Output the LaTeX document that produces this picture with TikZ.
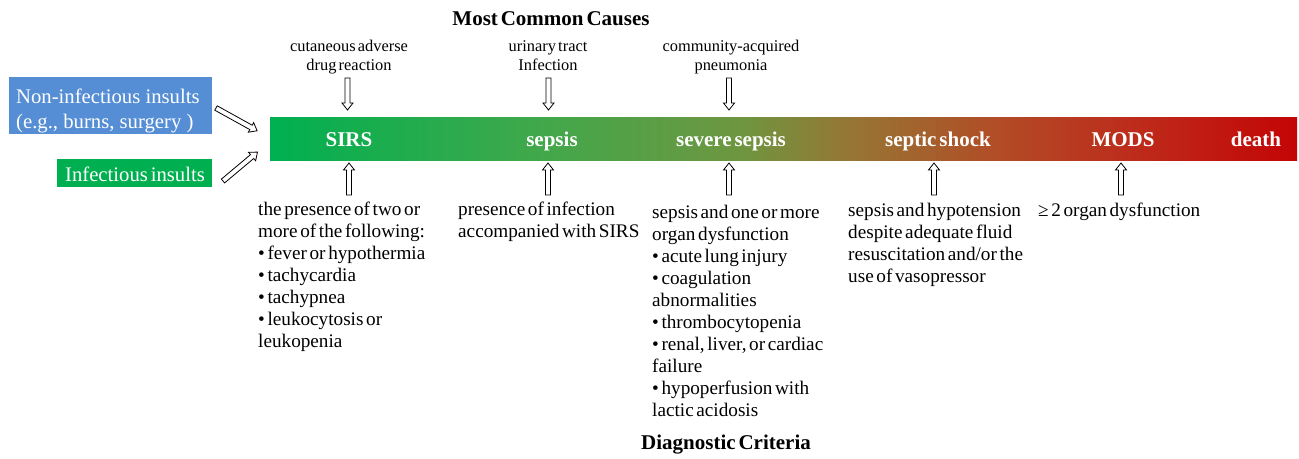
\documentclass[tikz,border=0pt]{standalone}
\usepackage{fontspec}
\setmainfont{Liberation Serif}[WordSpace=0.55]
\newfontfamily\widefont{Liberation Serif}
\usetikzlibrary{calc}
\definecolor{boxblue}{RGB}{85,142,213}
\definecolor{boxgreen}{RGB}{0,176,80}
\definecolor{ga}{RGB}{0,176,80}
\definecolor{gb}{RGB}{65,168,75}
\definecolor{gc}{RGB}{110,150,64}
\definecolor{gd}{RGB}{150,118,52}
\definecolor{ge}{RGB}{178,75,38}
\definecolor{gf}{RGB}{190,40,25}
\definecolor{gg}{RGB}{195,5,5}
\tikzset{
  arrowline/.style={draw=black, line width=0.8pt, fill=white, line join=miter},
  pics/harrow/.style={code={
    \draw[arrowline] (0,-2.5) -- ({#1-7},-2.5) -- ({#1-7},-5.5) -- (#1,0)
      -- ({#1-7},5.5) -- ({#1-7},2.5) -- (0,2.5) -- cycle;}},
  crit/.style={anchor=north west, align=left, inner sep=0pt,
    font=\fontsize{19.2}{22}\selectfont},
  cause/.style={anchor=north, align=center, inner sep=0pt,
    font=\fontsize{16.4}{19}\selectfont},
  heading/.style={anchor=base, inner sep=0pt, font=\fontsize{21}{24}\selectfont\bfseries},
  barlabel/.style={anchor=base, inner sep=0pt, text=white,
    font=\fontsize{21}{24}\selectfont\bfseries},
  insult/.style={inner sep=0pt, text=white, font=\fontsize{20.7}{24.5}\selectfont},
}
\begin{document}
\begin{tikzpicture}[x=1pt,y=-1pt]
\useasboundingbox (0,0) rectangle (1299,458);
% gradient bar
\shade[left color=ga, right color=gb] (270,117) rectangle (540.5,160);
\shade[left color=gb, right color=gc] (540,117) rectangle (740.5,160);
\shade[left color=gc, right color=gd] (740,117) rectangle (850.5,160);
\shade[left color=gd, right color=ge] (850,117) rectangle (1000.5,160);
\shade[left color=ge, right color=gf] (1000,117) rectangle (1150.5,160);
\shade[left color=gf, right color=gg] (1150,117) rectangle (1297,160);
\node[inner sep=0pt, minimum width=1027pt, minimum height=43pt, anchor=north west] (bar) at (270,117) {};
% bar labels
\node[barlabel] (l1) at (349,146) {SIRS};
\node[barlabel] (l2) at (552,146) {sepsis};
\node[barlabel] (l3) at (731,146) {severe sepsis};
\node[barlabel] (l4) at (938,146) {septic shock};
\node[barlabel] (l5) at (1123,146) {MODS};
\node[barlabel] (l6) at (1256,146) {death};
% insult boxes
\node[fill=boxblue, inner sep=0pt, anchor=north west, minimum width=203pt, minimum height=57pt] (b1) at (9,77) {};
\node[insult, anchor=north west, align=left, font=\fontsize{20.7}{24.5}\widefont] (b1t) at (16,86.5)
  {\strut Non-infectious insults\\(e.g., burns, surgery )};
\node[fill=boxgreen, inner sep=0pt, anchor=north west, minimum width=155pt, minimum height=28pt] (b2) at (57,159) {};
\node[insult, anchor=base] (b2t) at (135,181) {Infectious insults};
\coordinate (s1) at (216,108);
\coordinate (s2) at (223,181);
\pic[rotate=-29] at (s1) {harrow=47};
\pic[rotate=40] at (s2) {harrow=45};
% headings
\node[heading] (t1) at (551,25) {Most Common Causes};
\node[heading] (t2) at (726,449) {Diagnostic Criteria};
% causes
\node[cause] (c1) at (349,37.7) {\strut cutaneous adverse\\drug reaction};
\node[cause] (c2) at (548,37.7) {\strut urinary tract\\Infection};
\node[cause] (c3) at (731,37.7) {\strut community-acquired\\pneumonia};
\coordinate (a1) at (347.5,78);
\coordinate (a2) at (548.5,78);
\coordinate (a3) at (729,78);
\pic[rotate=-90] at (a1) {harrow=32};
\pic[rotate=-90] at (a2) {harrow=32};
\pic[rotate=-90] at (a3) {harrow=32};
% up arrows
\coordinate (u1) at (349,195);
\coordinate (u2) at (548,195);
\coordinate (u3) at (729,195);
\coordinate (u4) at (934,195);
\coordinate (u5) at (1121,195);
\foreach \u in {u1,u2,u3,u4,u5} {\pic[rotate=90] at (\u) {harrow=32};}
% criteria
\node[crit] (d1) at (258,199.5) {\strut the presence of two or\\more of the following:\\• fever or hypothermia\\• tachycardia\\• tachypnea\\• leukocytosis or\\leukopenia};
\node[crit] (d2) at (458,199.5) {\strut presence of infection\\accompanied with SIRS};
\node[crit] (d3) at (652,202.5) {\strut sepsis and one or more\\organ dysfunction\\• acute lung injury\\• coagulation\\abnormalities\\• thrombocytopenia\\• renal, liver, or cardiac\\failure\\• hypoperfusion with\\lactic acidosis};
\node[crit] (d4) at (848,201) {\strut sepsis and hypotension\\despite adequate fluid\\resuscitation and/or the\\use of vasopressor};
\node[crit] (d5) at (1038,201) {\strut ≥ 2 organ dysfunction};
\end{tikzpicture}
\end{document}
